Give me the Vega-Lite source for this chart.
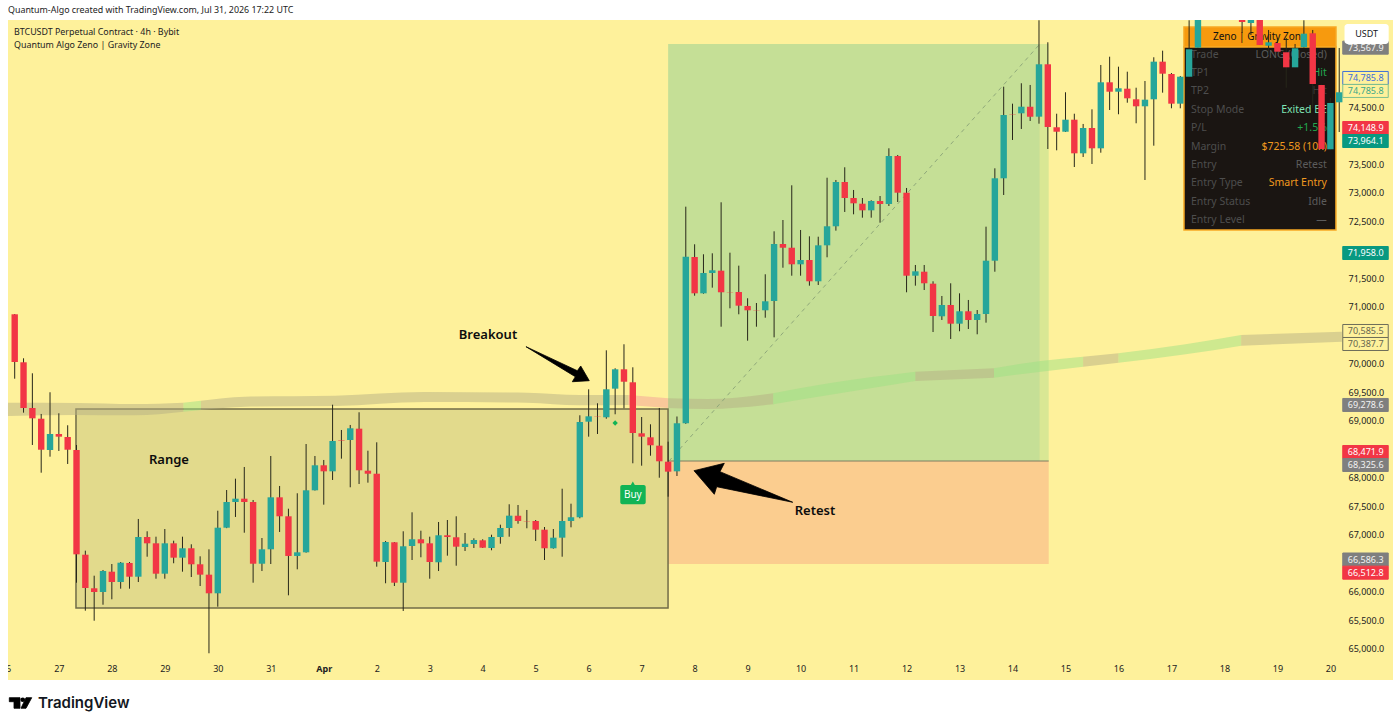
{
"$schema":"https://vega.github.io/schema/vega-lite/v6.json",
"description":"BTCUSDT 4h candles with range, breakout, retest and a long position zone",
"width":1385,"height":660,
"autosize":"none",
"padding":{"left":8,"top":20,"right":7,"bottom":46},
"background":"#ffffff",
"view":{"fill":"#fef19b","stroke":null},
"config":{"font":"Noto Sans","axis":{"grid":false,"domain":false,"ticks":false,"title":null}},
"resolve":{"scale":{"color":"independent","fill":"independent","stroke":"independent"}},
"datasets":{
"candles":[
{"bar":0,"open":70872,"high":70877,"low":69742,"close":70035},
{"bar":1,"open":70030,"high":70100,"low":69146,"close":69228},
{"bar":2,"open":69228,"high":69837,"low":68579,"close":69047},
{"bar":3,"open":69040,"high":69123,"low":68093,"close":68496},
{"bar":4,"open":68491,"high":69504,"low":68374,"close":68772},
{"bar":5,"open":68772,"high":69135,"low":68474,"close":68725},
{"bar":6,"open":68719,"high":68925,"low":68246,"close":68496},
{"bar":7,"open":68491,"high":68579,"low":66163,"close":66661},
{"bar":8,"open":66654,"high":66725,"low":65672,"close":66070},
{"bar":9,"open":66065,"high":66286,"low":65496,"close":66000},
{"bar":10,"open":66000,"high":66386,"low":65777,"close":66368},
{"bar":11,"open":66356,"high":66491,"low":65872,"close":66175},
{"bar":12,"open":66175,"high":66526,"low":66058,"close":66514},
{"bar":13,"open":66509,"high":66526,"low":66058,"close":66268},
{"bar":14,"open":66268,"high":67281,"low":66175,"close":66965},
{"bar":15,"open":66965,"high":67065,"low":66619,"close":66854},
{"bar":16,"open":66854,"high":66970,"low":66233,"close":66321},
{"bar":17,"open":66321,"high":67105,"low":66233,"close":66854},
{"bar":18,"open":66854,"high":66900,"low":66504,"close":66602},
{"bar":19,"open":66602,"high":66970,"low":66356,"close":66767},
{"bar":20,"open":66767,"high":66837,"low":66263,"close":66486},
{"bar":21,"open":66486,"high":66626,"low":66105,"close":66304},
{"bar":22,"open":66304,"high":66749,"low":64925,"close":65977},
{"bar":23,"open":65977,"high":67426,"low":65742,"close":67128},
{"bar":24,"open":67128,"high":67789,"low":67120,"close":67579},
{"bar":25,"open":67579,"high":67988,"low":67316,"close":67637},
{"bar":26,"open":67637,"high":68193,"low":67040,"close":67579},
{"bar":27,"open":67579,"high":67614,"low":66163,"close":66496},
{"bar":28,"open":66496,"high":66947,"low":66368,"close":66749},
{"bar":29,"open":66749,"high":68386,"low":66491,"close":67661},
{"bar":30,"open":67661,"high":67860,"low":67053,"close":67328},
{"bar":31,"open":67328,"high":67461,"low":65942,"close":66632},
{"bar":32,"open":66632,"high":67732,"low":66398,"close":66696},
{"bar":33,"open":66696,"high":68596,"low":66690,"close":67784},
{"bar":34,"open":67784,"high":68386,"low":67780,"close":68223},
{"bar":35,"open":68223,"high":68316,"low":67532,"close":68117},
{"bar":36,"open":68117,"high":69286,"low":67965,"close":68649},
{"bar":37,"open":68667,"high":68842,"low":68339,"close":68658},
{"bar":38,"open":68667,"high":68930,"low":67837,"close":68872},
{"bar":39,"open":68865,"high":69153,"low":67895,"close":68135},
{"bar":40,"open":68128,"high":68479,"low":67918,"close":68075},
{"bar":41,"open":68075,"high":68626,"low":66444,"close":66532},
{"bar":42,"open":66526,"high":66895,"low":66153,"close":66877},
{"bar":43,"open":66872,"high":66877,"low":66105,"close":66163},
{"bar":44,"open":66163,"high":67065,"low":65667,"close":66802},
{"bar":45,"open":66807,"high":67398,"low":66561,"close":66925},
{"bar":46,"open":66925,"high":67075,"low":66609,"close":66854},
{"bar":47,"open":66854,"high":66970,"low":66233,"close":66526},
{"bar":48,"open":66521,"high":67228,"low":66368,"close":66995},
{"bar":49,"open":66995,"high":67263,"low":66637,"close":66965},
{"bar":50,"open":66960,"high":67328,"low":66461,"close":66795},
{"bar":51,"open":66789,"high":67035,"low":66719,"close":66847},
{"bar":52,"open":66842,"high":66942,"low":66772,"close":66912},
{"bar":53,"open":66907,"high":66925,"low":66772,"close":66777},
{"bar":54,"open":66772,"high":67005,"low":66732,"close":66965},
{"bar":55,"open":66965,"high":67181,"low":66847,"close":67123},
{"bar":56,"open":67123,"high":67539,"low":66970,"close":67339},
{"bar":57,"open":67339,"high":67526,"low":67198,"close":67246},
{"bar":58,"open":67246,"high":67439,"low":67118,"close":67240},
{"bar":59,"open":67246,"high":67263,"low":66895,"close":67093},
{"bar":60,"open":67093,"high":67140,"low":66561,"close":66767},
{"bar":61,"open":66767,"high":67105,"low":66760,"close":66953},
{"bar":62,"open":66953,"high":67812,"low":66619,"close":67246},
{"bar":63,"open":67246,"high":67549,"low":67135,"close":67311},
{"bar":64,"open":67311,"high":69100,"low":67293,"close":68982},
{"bar":65,"open":68988,"high":69556,"low":68725,"close":69082},
{"bar":66,"open":69075,"high":69311,"low":68772,"close":69070},
{"bar":67,"open":69065,"high":70240,"low":69040,"close":69556},
{"bar":68,"open":69567,"high":69925,"low":69118,"close":69907},
{"bar":69,"open":69907,"high":70346,"low":69223,"close":69689},
{"bar":70,"open":69679,"high":69942,"low":68258,"close":68789},
{"bar":71,"open":68784,"high":69070,"low":68216,"close":68725},
{"bar":72,"open":68714,"high":68942,"low":68391,"close":68574},
{"bar":73,"open":68567,"high":69228,"low":68005,"close":68293},
{"bar":74,"open":68286,"high":68637,"low":67672,"close":68111},
{"bar":75,"open":68117,"high":69079,"low":68035,"close":68960},
{"bar":76,"open":68960,"high":72760,"low":68950,"close":71882},
{"bar":77,"open":71877,"high":72100,"low":71198,"close":71240},
{"bar":78,"open":71240,"high":71925,"low":71233,"close":71596},
{"bar":79,"open":71596,"high":71942,"low":71339,"close":71644},
{"bar":80,"open":71637,"high":72837,"low":70654,"close":71258},
{"bar":81,"open":71263,"high":71953,"low":70977,"close":71258},
{"bar":82,"open":71263,"high":71725,"low":70872,"close":71023},
{"bar":83,"open":71018,"high":71153,"low":70409,"close":70942},
{"bar":84,"open":70940,"high":71070,"low":70654,"close":70935},
{"bar":85,"open":70942,"high":71574,"low":70812,"close":71100},
{"bar":86,"open":71105,"high":72328,"low":70468,"close":72105},
{"bar":87,"open":72105,"high":72526,"low":71689,"close":72040},
{"bar":88,"open":72040,"high":73135,"low":71549,"close":71749},
{"bar":89,"open":71749,"high":72351,"low":71549,"close":71825},
{"bar":90,"open":71825,"high":72240,"low":71374,"close":71451},
{"bar":91,"open":71451,"high":72233,"low":71386,"close":72082},
{"bar":92,"open":72082,"high":73268,"low":71872,"close":72416},
{"bar":93,"open":72416,"high":73228,"low":72339,"close":73193},
{"bar":94,"open":73193,"high":73451,"low":72667,"close":72912},
{"bar":95,"open":72912,"high":73053,"low":72626,"close":72819},
{"bar":96,"open":72812,"high":72912,"low":72567,"close":72696},
{"bar":97,"open":72696,"high":72872,"low":72567,"close":72860},
{"bar":98,"open":72860,"high":72947,"low":72479,"close":72807},
{"bar":99,"open":72807,"high":73784,"low":72772,"close":73649},
{"bar":100,"open":73649,"high":73667,"low":72842,"close":73005},
{"bar":101,"open":73005,"high":73088,"low":71258,"close":71549},
{"bar":102,"open":71549,"high":71737,"low":71374,"close":71626},
{"bar":103,"open":71619,"high":71737,"low":71298,"close":71416},
{"bar":104,"open":71409,"high":71451,"low":70561,"close":70842},
{"bar":105,"open":70837,"high":71193,"low":70772,"close":71035},
{"bar":106,"open":71035,"high":71416,"low":70439,"close":70707},
{"bar":107,"open":70707,"high":71240,"low":70574,"close":70925},
{"bar":108,"open":70925,"high":71123,"low":70614,"close":70772},
{"bar":109,"open":70772,"high":70947,"low":70521,"close":70877},
{"bar":110,"open":70877,"high":72409,"low":70725,"close":71812},
{"bar":111,"open":71812,"high":73433,"low":71619,"close":73258},
{"bar":112,"open":73258,"high":74865,"low":72965,"close":74368},
{"bar":113,"open":74386,"high":74567,"low":73930,"close":74380},
{"bar":114,"open":74398,"high":74925,"low":74123,"close":74514},
{"bar":115,"open":74514,"high":74895,"low":74263,"close":74339},
{"bar":116,"open":74339,"high":76030,"low":74216,"close":75258},
{"bar":117,"open":75258,"high":75644,"low":73772,"close":74158},
{"bar":118,"open":74153,"high":74391,"low":73749,"close":74075},
{"bar":119,"open":74075,"high":74767,"low":74070,"close":74286},
{"bar":120,"open":74286,"high":74391,"low":73456,"close":73696},
{"bar":121,"open":73696,"high":74211,"low":73632,"close":74140},
{"bar":122,"open":74140,"high":74468,"low":73509,"close":73784},
{"bar":123,"open":73784,"high":75246,"low":73707,"close":74942},
{"bar":124,"open":74942,"high":75391,"low":74456,"close":74777},
{"bar":125,"open":74777,"high":75216,"low":74381,"close":74837},
{"bar":126,"open":74830,"high":75128,"low":74584,"close":74661},
{"bar":127,"open":74644,"high":74847,"low":74223,"close":74521},
{"bar":128,"open":74521,"high":74965,"low":73228,"close":74637},
{"bar":129,"open":74644,"high":75381,"low":73830,"close":75304},
{"bar":130,"open":75304,"high":75497,"low":74760,"close":75093},
{"bar":131,"open":75088,"high":75105,"low":74486,"close":74567},
{"bar":132,"open":74567,"high":75053,"low":74486,"close":75040},
{"bar":133,"open":75040,"high":76030,"low":75030,"close":75521},
{"bar":134,"open":75549,"high":76100,"low":75549,"close":76100},
{"bar":139,"open":76100,"high":76100,"low":75807,"close":76000},
{"bar":140,"open":75982,"high":76100,"low":75772,"close":76100},
{"bar":141,"open":76100,"high":76100,"low":75597,"close":75597},
{"bar":142,"open":75584,"high":75860,"low":75421,"close":75644},
{"bar":143,"open":75632,"high":75719,"low":75470,"close":75479},
{"bar":144,"open":75469,"high":75719,"low":74847,"close":75205},
{"bar":145,"open":75205,"high":75614,"low":75200,"close":75539},
{"bar":146,"open":75556,"high":76030,"low":75550,"close":75795},
{"bar":147,"open":75802,"high":75860,"low":74491,"close":74912},
{"bar":148,"open":74895,"high":74900,"low":73770,"close":73772},
{"bar":149,"open":73767,"high":74667,"low":73760,"close":74579},
{"bar":150,"open":74591,"high":75544,"low":74070,"close":74767}
],
"band":[
{"bar":-0.76,"price":69321,"price2":69088,"seg":1,"state":"flat"},
{"bar":6.9,"price":69316,"price2":69105,"seg":1,"state":"flat"},
{"bar":13.5,"price":69298,"price2":69100,"seg":1,"state":"flat"},
{"bar":19.1,"price":69321,"price2":69163,"seg":1,"state":"flat"},
{"bar":19.1,"price":69321,"price2":69163,"seg":2,"state":"up"},
{"bar":21.1,"price":69356,"price2":69193,"seg":2,"state":"up"},
{"bar":21.1,"price":69356,"price2":69193,"seg":3,"state":"flat"},
{"bar":26.1,"price":69426,"price2":69251,"seg":3,"state":"flat"},
{"bar":36.3,"price":69444,"price2":69263,"seg":3,"state":"flat"},
{"bar":46.4,"price":69509,"price2":69333,"seg":3,"state":"flat"},
{"bar":58,"price":69496,"price2":69321,"seg":3,"state":"flat"},
{"bar":64,"price":69456,"price2":69275,"seg":3,"state":"flat"},
{"bar":69.5,"price":69456,"price2":69281,"seg":3,"state":"flat"},
{"bar":69.5,"price":69456,"price2":69281,"seg":4,"state":"down"},
{"bar":74,"price":69398,"price2":69228,"seg":4,"state":"down"},
{"bar":74,"price":69398,"price2":69228,"seg":5,"state":"flat"},
{"bar":78.5,"price":69386,"price2":69211,"seg":5,"state":"flat"},
{"bar":85.9,"price":69486,"price2":69293,"seg":5,"state":"flat"},
{"bar":85.9,"price":69486,"price2":69293,"seg":6,"state":"up"},
{"bar":92.2,"price":69661,"price2":69456,"seg":6,"state":"up"},
{"bar":102,"price":69865,"price2":69702,"seg":6,"state":"up"},
{"bar":102,"price":69865,"price2":69702,"seg":7,"state":"flat"},
{"bar":110.9,"price":69925,"price2":69760,"seg":7,"state":"flat"},
{"bar":110.9,"price":69925,"price2":69760,"seg":8,"state":"up"},
{"bar":116.2,"price":70053,"price2":69865,"seg":8,"state":"up"},
{"bar":121,"price":70128,"price2":69953,"seg":8,"state":"up"},
{"bar":121,"price":70128,"price2":69953,"seg":9,"state":"flat"},
{"bar":125,"price":70188,"price2":70023,"seg":9,"state":"flat"},
{"bar":125,"price":70188,"price2":70023,"seg":10,"state":"up"},
{"bar":132.6,"price":70346,"price2":70170,"seg":10,"state":"up"},
{"bar":138.9,"price":70509,"price2":70321,"seg":10,"state":"up"},
{"bar":138.9,"price":70509,"price2":70321,"seg":11,"state":"flat"},
{"bar":150.3,"price":70567,"price2":70391,"seg":11,"state":"flat"}
],
"polygons":[
{"shape":"breakout","vertex":1,"bar":57.9,"price":70304},
{"shape":"breakout","vertex":2,"bar":63.72,"price":69882},
{"shape":"breakout","vertex":3,"bar":64.1,"price":69965},
{"shape":"breakout","vertex":4,"bar":65.07,"price":69707},
{"shape":"breakout","vertex":5,"bar":63.15,"price":69689},
{"shape":"breakout","vertex":6,"bar":63.49,"price":69777},
{"shape":"retest","vertex":1,"bar":76.93,"price":68128},
{"shape":"retest","vertex":2,"bar":80.36,"price":68258},
{"shape":"retest","vertex":3,"bar":79.87,"price":68111},
{"shape":"retest","vertex":4,"bar":88.11,"price":67574},
{"shape":"retest","vertex":5,"bar":79.5,"price":67847},
{"shape":"retest","vertex":6,"bar":79.23,"price":67714},
{"shape":"logoT","vertex":1,"bar":-0.61,"price":64146},
{"shape":"logoT","vertex":2,"bar":0.6,"price":64146},
{"shape":"logoT","vertex":3,"bar":0.6,"price":63960},
{"shape":"logoT","vertex":4,"bar":-0.08,"price":63960},
{"shape":"logoT","vertex":5,"bar":-0.08,"price":64075},
{"shape":"logoT","vertex":6,"bar":-0.61,"price":64075},
{"shape":"logoV","vertex":1,"bar":1.28,"price":64146},
{"shape":"logoV","vertex":2,"bar":1.93,"price":64146},
{"shape":"logoV","vertex":3,"bar":1.28,"price":63960},
{"shape":"logoV","vertex":4,"bar":0.71,"price":63960}
],
"tags":[
{"price":75550,"label":"73,567.9","kind":"gray"},
{"price":75018,"label":"74,785.8","kind":"blueLine"},
{"price":74790,"label":"74,785.8","kind":"greenLine"},
{"price":74140,"label":"74,148.9","kind":"red"},
{"price":73912,"label":"73,964.1","kind":"teal"},
{"price":71947,"label":"71,958.0","kind":"teal"},
{"price":70579,"label":"70,585.5","kind":"grayLine"},
{"price":70351,"label":"70,387.7","kind":"grayLine"},
{"price":69281,"label":"69,278.6","kind":"gray"},
{"price":68456,"label":"68,471.9","kind":"red"},
{"price":68228,"label":"68,325.6","kind":"gray"},
{"price":66570,"label":"66,586.3","kind":"gray"},
{"price":66339,"label":"66,512.8","kind":"red"}
],
"panel":[
{"row":"Trade","value":"LONG (Closed)","kind":"dim","price":75421},
{"row":"TP1","value":"Hit","kind":"good","price":75105},
{"row":"TP2","value":"Hit","kind":"off","price":74781},
{"row":"Stop Mode","value":"Exited BE","kind":"exit","price":74456},
{"row":"P/L","value":"+1.5%","kind":"good","price":74140},
{"row":"Margin","value":"$725.58 (10x)","kind":"warm","price":73807},
{"row":"Entry","value":"Retest","kind":"dim","price":73491},
{"row":"Entry Type","value":"Smart Entry","kind":"warm","price":73175},
{"row":"Entry Status","value":"Idle","kind":"dim","price":72842},
{"row":"Entry Level","value":"—","kind":"dim","price":72526}
]
},
"encoding":{
"x":{"field":"bar","type":"quantitative","title":null,
"scale":{"domain":[-0.759,156.09],"nice":false,"zero":false,"padding":0},
"axis":{"orient":"bottom","offset":-16,"labelPadding":0,"labelFontSize":9,"labelColor":"#222222","labelFlush":false,"labelOverlap":false,
"values":[5,11,17,23,29,35,41,47,53,59,65,71,77,83,89,95,101,107,113,119,125,131,137,143,149],
"labelExpr":"datum.value==35?'Apr':''+(((datum.value-11)/6+28)>31?(datum.value-11)/6-3:(datum.value-11)/6+28)",
"labelFontWeight":{"condition":{"test":"datum.value==35","value":"bold"},"value":"normal"}}},
"y":{"field":"price","type":"quantitative","title":null,
"scale":{"domain":[64456,76035],"nice":false,"zero":false},
"axis":{"orient":"right","offset":-45,"labelPadding":0,"labelFontSize":9,"labelColor":"#222222","format":",.1f","labelOverlap":false,
"values":[65000,65500,66000,67000,67500,68000,69000,69500,70000,71000,71500,72500,73000,73500,74500]}}
},
"layer":[
{"data":{"values":[
{"zone":"profit","bar":74,"bar2":116.1,"price":75614,"price2":68298},
{"zone":"edge","bar":116.1,"bar2":117.1,"price":75614,"price2":68298},
{"zone":"stop","bar":74,"bar2":117.1,"price":68298,"price2":66491}
]},
"mark":{"type":"rect"},
"encoding":{"x2":{"field":"bar2"},"y2":{"field":"price2"},
"color":{"field":"zone","type":"nominal","legend":null,"scale":{"domain":["profit","edge","stop"],"range":["#c5df96","#d9e794","#fbcd8f"]}}}},
{"data":{"values":[{"bar":74,"bar2":117.1,"price":68298}]},
"mark":{"type":"rule","color":"#7d7d62","strokeWidth":1},
"encoding":{"x2":{"field":"bar2"}}},
{"data":{"values":[{"bar":6.94,"bar2":73.99,"price":69210,"price2":65719}]},
"mark":{"type":"rect","fill":"#e2da8c","stroke":"#716c48","strokeWidth":1.5},
"encoding":{"x2":{"field":"bar2"},"y2":{"field":"price2"}}},
{"data":{"name":"band"},
"mark":{"type":"area","opacity":0.5,"interpolate":"monotone"},
"encoding":{"y2":{"field":"price2"},"detail":{"field":"seg"},
"color":{"field":"state","type":"nominal","legend":null,"scale":{"domain":["flat","up","down"],"range":["#b5b084","#9de284","#f3a09a"]}}}},
{"data":{"values":[{"bar":74.1,"price":68298},{"bar":116.1,"price":75614}]},
"mark":{"type":"line","color":"#8fa87a","strokeWidth":1,"strokeDash":[4,4]},
"encoding":{}},
{"data":{"values":[
{"part":"head","bar":132.42,"bar2":149.63,"price":75912,"price2":75562},
{"part":"body","bar":132.42,"bar2":149.63,"price":75562,"price2":72351}
]},
"mark":{"type":"rect","stroke":"#f7a823","strokeWidth":1.5},
"encoding":{"x2":{"field":"bar2"},"y2":{"field":"price2"},
"fill":{"field":"part","type":"nominal","legend":null,"scale":{"domain":["head","body"],"range":["#f79a0e","#1a1512"]}}}},
{"data":{"values":[{"bar":141,"price":75737,"note":"Zeno | Gravity Zone"}]},
"mark":{"type":"text","fontSize":10,"color":"#111111"},
"encoding":{"text":{"field":"note"}}},
{"data":{"name":"panel"},
"transform":[{"calculate":"133.2","as":"bar"}],
"mark":{"type":"text","align":"left","fontSize":10.5,"color":"#4d4d4d"},
"encoding":{"text":{"field":"row"}}},
{"data":{"name":"panel"},
"transform":[{"calculate":"148.6","as":"bar"}],
"mark":{"type":"text","align":"right","fontSize":10.5},
"encoding":{"text":{"field":"value"},
"color":{"field":"kind","type":"nominal","legend":null,"scale":{"domain":["dim","off","good","exit","warm"],"range":["#5c5c5c","#3a3a3a","#22a84f","#7fe3b4","#f0991f"]}}}},
{"data":{"name":"candles"},
"mark":{"type":"rule","color":"#27271a","strokeWidth":1,"clip":true},
"encoding":{"y":{"field":"high","type":"quantitative","title":null,"axis":{"orient":"right","offset":-45,"labelPadding":0,"labelFontSize":9,"labelColor":"#222222","format":",.1f","labelOverlap":false,
"values":[65000,65500,66000,67000,67500,68000,69000,69500,70000,71000,71500,72500,73000,73500,74500]}},"y2":{"field":"low"}}},
{"data":{"name":"candles"},
"mark":{"type":"bar","width":6.4,"clip":true},
"encoding":{"y":{"field":"open","type":"quantitative","title":null,"axis":{"orient":"right","offset":-45,"labelPadding":0,"labelFontSize":9,"labelColor":"#222222","format":",.1f","labelOverlap":false,
"values":[65000,65500,66000,67000,67500,68000,69000,69500,70000,71000,71500,72500,73000,73500,74500]}},"y2":{"field":"close"},
"color":{"condition":{"test":"datum.close>=datum.open","value":"#26a69a"},"value":"#f23645"}}},
{"data":{"values":[{"bar":68.58,"bar2":71.46,"price":67877,"price2":67539}]},
"mark":{"type":"rect","fill":"#11b455","cornerRadius":2},
"encoding":{"x2":{"field":"bar2"},"y2":{"field":"price2"}}},
{"data":{"values":[{"bar":70,"price":67900}]},
"mark":{"type":"point","shape":"triangle-up","filled":true,"size":26,"color":"#11b455","opacity":1},
"encoding":{}},
{"data":{"values":[{"bar":68,"price":68965}]},
"mark":{"type":"point","shape":"diamond","filled":true,"size":28,"color":"#11b455","opacity":1},
"encoding":{}},
{"data":{"values":[{"bar":70,"price":67707,"note":"Buy"}]},
"mark":{"type":"text","fontSize":10,"color":"#ffffff"},
"encoding":{"text":{"field":"note"}}},
{"data":{"name":"polygons"},
"mark":{"type":"line","interpolate":"linear-closed","fill":"#000000","stroke":"#000000","strokeWidth":0.8},
"encoding":{"detail":{"field":"shape"},"order":{"field":"vertex"}}},
{"data":{"values":[{"bar":0.91,"price":64110}]},
"mark":{"type":"point","filled":true,"size":22,"color":"#000000","opacity":1},
"encoding":{}},
{"data":{"values":[
{"bar":17.47,"price":68316,"note":"Range"},
{"bar":53.6,"price":70510,"note":"Breakout"},
{"bar":90.63,"price":67421,"note":"Retest"}
]},
"mark":{"type":"text","fontSize":13,"fontWeight":600,"color":"#0c0c0c"},
"encoding":{"text":{"field":"note"}}},
{"data":{"values":[
{"bar":-0.08,"price":75825,"note":"BTCUSDT Perpetual Contract · 4h · Bybit"},
{"bar":-0.08,"price":75597,"note":"Quantum Algo Zeno | Gravity Zone"},
{"bar":-0.76,"price":76211,"note":"Quantum-Algo created with TradingView.com, Jul 31, 2026 17:22 UTC"}
]},
"mark":{"type":"text","align":"left","fontSize":8.9,"color":"#222222"},
"encoding":{"text":{"field":"note"}}},
{"data":{"values":[{"bar":-1,"price":64649,"note":"26"}]},
"mark":{"type":"text","fontSize":9,"color":"#222222","clip":true},
"encoding":{"text":{"field":"note"}}},
{"data":{"values":[{"bar":2.65,"price":64050,"note":"TradingView"}]},
"mark":{"type":"text","align":"left","font":"Inter","fontSize":15,"fontWeight":600,"color":"#131722"},
"encoding":{"text":{"field":"note"}}},
{"data":{"name":"tags"},
"transform":[{"calculate":"150.4","as":"bar"},{"calculate":"155.55","as":"bar2"}],
"mark":{"type":"rect","height":13,"strokeWidth":1},
"encoding":{"x2":{"field":"bar2"},
"fill":{"field":"kind","type":"nominal","legend":null,"scale":{"domain":["gray","red","teal","blueLine","greenLine","grayLine"],"range":["#7f7f7f","#f23645","#089981","#fef19b","#fef19b","#fef19b"]}},
"stroke":{"field":"kind","type":"nominal","legend":null,"scale":{"domain":["gray","red","teal","blueLine","greenLine","grayLine"],"range":["#7f7f7f","#f23645","#089981","#3d6fd8","#7fbf8f","#6e6e5a"]}}}},
{"data":{"name":"tags"},
"transform":[{"calculate":"153","as":"bar"}],
"mark":{"type":"text","fontSize":9},
"encoding":{"text":{"field":"label"},
"color":{"field":"kind","type":"nominal","legend":null,"scale":{"domain":["gray","red","teal","blueLine","greenLine","grayLine"],"range":["#f2f2f2","#ffffff","#ffffff","#3d6fd8","#3ba88a","#66664f"]}}}},
{"data":{"values":[{"bar":150.6,"bar2":155.6,"price":75965,"price2":75614}]},
"mark":{"type":"rect","fill":"#ffffff","cornerRadius":3},
"encoding":{"x2":{"field":"bar2"},"y2":{"field":"price2"}}},
{"data":{"values":[{"bar":153.1,"price":75798,"note":"USDT"}]},
"mark":{"type":"text","fontSize":9,"color":"#131722"},
"encoding":{"text":{"field":"note"}}}
]
}
